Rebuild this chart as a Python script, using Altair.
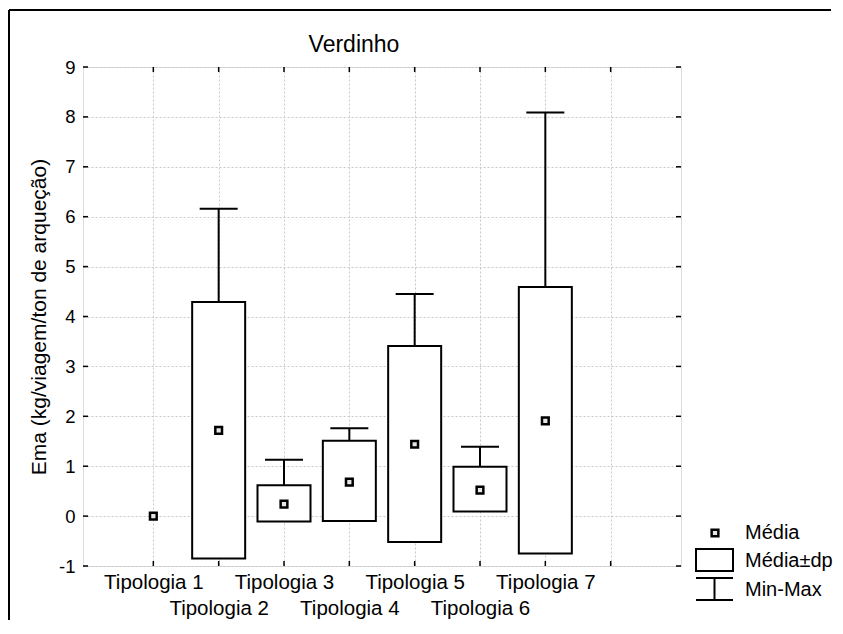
import altair as alt
import pandas as pd

# ---- data ----
categories = ["Tipologia 1", "Tipologia 2", "Tipologia 3", "Tipologia 4",
              "Tipologia 5", "Tipologia 6", "Tipologia 7"]
positions = [1, 2, 3, 4, 5, 6, 7]
means = [0.00, 1.72, 0.24, 0.68, 1.44, 0.52, 1.91]
sd_low = [0.00, -0.85, -0.11, -0.10, -0.52, 0.09, -0.75]
sd_high = [0.00, 4.29, 0.62, 1.51, 3.41, 0.99, 4.59]
mins = [0.00, 0.00, 0.00, 0.00, 0.00, 0.10, 0.00]
maxs = [0.00, 6.16, 1.13, 1.76, 4.45, 1.39, 8.09]

y_ticks = [-1, 0, 1, 2, 3, 4, 5, 6, 7, 8, 9]
x_ticks = [1, 2, 3, 4, 5, 6, 7, 8]
legend_labels = ["Média", "Média±dp", "Min-Max"]
title_text = "Verdinho"

W, H = 598, 499
FONT = "Liberation Sans"

df = pd.DataFrame({
    "cat": categories, "pos": positions, "mean": means,
    "lo": sd_low, "hi": sd_high, "min": mins, "max": maxs,
})

arr = "[" + ",".join("'" + c + "'" for c in categories) + "]"
label_expr = (f"datum.value >= 1 && datum.value <= {len(categories)} ? "
              f"(datum.value % 2 == 1 ? {arr}[datum.value-1] : ['', {arr}[datum.value-1]]) : ''")

xs = alt.Scale(domain=[0, 9], nice=False, zero=False)
ys = alt.Scale(domain=[-1, 9], nice=False, zero=False)

x_axis = alt.Axis(values=x_ticks, title=None, labelExpr=label_expr, grid=True,
                  gridDash=[2, 2], gridColor="#c8c8c8", ticks=False, domain=False,
                  labelFontSize=20.5, labelPadding=6, labelLineHeight=26,
                  labelColor="black", labelFont=FONT, labelFlush=False, labelOverlap=False)
y_axis = alt.Axis(values=y_ticks, title="Ema (kg/viagem/ton de arqueção)", grid=True,
                  gridDash=[2, 2], gridColor="#c8c8c8", ticks=False, domain=False,
                  labelExpr="'' + datum.value",
                  labelFontSize=18.5, labelPadding=8, labelColor="black", labelFont=FONT,
                  titleFont=FONT, titleFontSize=21, titleFontWeight="normal",
                  titleColor="black", titlePadding=9, labelFlush=False, labelOverlap=False)

base = alt.Chart(df)

grid = base.mark_point(opacity=0).encode(
    x=alt.X("pos:Q", scale=xs, axis=x_axis),
    y=alt.Y("mean:Q", scale=ys, axis=y_axis),
)

valid = base.transform_filter("datum.max > datum.min")

whisker = valid.mark_rule(color="black", strokeWidth=2).encode(
    x=alt.X("pos:Q", scale=xs), y=alt.Y("min:Q", scale=ys), y2="max:Q")
cap_max = valid.mark_tick(orient="horizontal", size=38, thickness=2, color="black",
                          opacity=1).encode(
    x=alt.X("pos:Q", scale=xs), y=alt.Y("max:Q", scale=ys))
cap_min = valid.mark_tick(orient="horizontal", size=38, thickness=2, color="black",
                          opacity=1).encode(
    x=alt.X("pos:Q", scale=xs), y=alt.Y("min:Q", scale=ys))
box = base.transform_filter("datum.hi > datum.lo").mark_bar(
    size=53, fill="white", stroke="black", strokeWidth=2).encode(
    x=alt.X("pos:Q", scale=xs), y=alt.Y("lo:Q", scale=ys), y2="hi:Q")
mean_pt = base.mark_point(shape="square", filled=True, fill="#e6e6e6", stroke="black",
                          strokeWidth=2.5, size=45, opacity=1).encode(
    x=alt.X("pos:Q", scale=xs), y=alt.Y("mean:Q", scale=ys))

# inward ticks on all four sides
ydf = alt.Chart(pd.DataFrame({"v": y_ticks}))
xdf = alt.Chart(pd.DataFrame({"v": x_ticks}))
tick_l = ydf.mark_rule(color="black", strokeWidth=1.5).encode(
    y=alt.Y("v:Q", scale=ys), x=alt.value(0), x2=alt.value(5))
tick_r = ydf.mark_rule(color="black", strokeWidth=1.5).encode(
    y=alt.Y("v:Q", scale=ys), x=alt.value(W - 5), x2=alt.value(W))
tick_b = xdf.mark_rule(color="black", strokeWidth=1.5).encode(
    x=alt.X("v:Q", scale=xs), y=alt.value(H - 5), y2=alt.value(H))
tick_t = xdf.mark_rule(color="black", strokeWidth=1.5).encode(
    x=alt.X("v:Q", scale=xs), y=alt.value(0), y2=alt.value(5))

# outer figure frame (top and left edges visible)
frame_t = alt.Chart(pd.DataFrame({"a": [0]})).mark_rule(color="black", strokeWidth=2).encode(
    x=alt.value(-74), x2=alt.value(W + 150), y=alt.value(-57))
frame_l = alt.Chart(pd.DataFrame({"a": [0]})).mark_rule(color="black", strokeWidth=2).encode(
    x=alt.value(-74), y=alt.value(-57), y2=alt.value(H + 70))

# chart title as a text mark (placed above the plot, offset to the left as in the reference)
title = alt.Chart(pd.DataFrame({"t": [title_text]})).mark_text(
    align="center", baseline="alphabetic", font=FONT, fontSize=23, color="black").encode(
    x=alt.value(W / 2 - 28), y=alt.value(-15), text="t:N")

# custom legend
leg = alt.Chart(pd.DataFrame({"label": legend_labels}))
LX = 631  # symbol centre x
leg_pt = leg.transform_filter("datum.label == 'Média'").mark_point(
    shape="square", filled=True, fill="#e6e6e6", stroke="black", strokeWidth=2.5,
    size=45, opacity=1).encode(x=alt.value(LX + 1), y=alt.value(466))
leg_box = leg.transform_filter("datum.label == 'Média±dp'").mark_rect(
    fill="white", stroke="black", strokeWidth=2).encode(
    x=alt.value(LX - 18), x2=alt.value(LX + 19), y=alt.value(482), y2=alt.value(504))
leg_i1 = leg.transform_filter("datum.label == 'Min-Max'").mark_rule(
    color="black", strokeWidth=2).encode(
    x=alt.value(LX - 18), x2=alt.value(LX + 19), y=alt.value(511))
leg_i2 = leg.transform_filter("datum.label == 'Min-Max'").mark_rule(
    color="black", strokeWidth=2).encode(
    x=alt.value(LX - 18), x2=alt.value(LX + 19), y=alt.value(533))
leg_i3 = leg.transform_filter("datum.label == 'Min-Max'").mark_rule(
    color="black", strokeWidth=2).encode(
    x=alt.value(LX + 0.5), y=alt.value(511), y2=alt.value(533))
leg_txt = leg.transform_calculate(
    yy="datum.label == 'Média' ? 466 : (datum.label == 'Média±dp' ? 494 : 523)"
).mark_text(align="left", baseline="middle", font=FONT, fontSize=20, color="black").encode(
    x=alt.value(662), y=alt.Y("yy:Q", scale=None), text="label:N")

chart = alt.layer(
    grid, whisker, cap_max, cap_min, box, mean_pt,
    tick_l, tick_r, tick_b, tick_t, frame_t, frame_l, title,
    leg_pt, leg_box, leg_i1, leg_i2, leg_i3, leg_txt,
).properties(
    width=W, height=H,
    autosize=alt.AutoSizeParams(type="none"),
    padding={"left": 75, "top": 59, "right": 153, "bottom": 54},
).configure_view(stroke="black", strokeWidth=2).configure(background="white")

chart.save("out.html", embed_options={"renderer": "svg", "actions": False})
